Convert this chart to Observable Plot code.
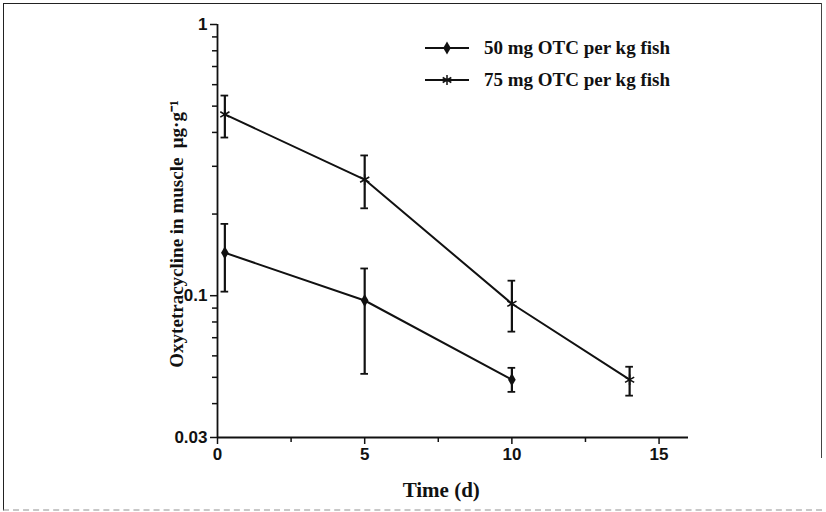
<!DOCTYPE html>
<html>
<head>
<meta charset="utf-8">
<script src="https://cdn.jsdelivr.net/npm/d3@7"></script>
<script src="https://cdn.jsdelivr.net/npm/@observablehq/plot@0.6"></script>
<style>
  body { margin: 0; background: #fff; }
  #wrap { position: relative; width: 826px; height: 512px; overflow: hidden; }
  #box { position: absolute; left: 3px; top: 3px; width: 819px; height: 508px;
         border-left: 1.5px solid #222; border-top: 1.5px solid #222; box-sizing: border-box;
         border-bottom: 2px dashed #c8c8c8; }
  #rbox { position: absolute; left: 821px; top: 3px; width: 0; height: 455px; border-left: 1.2px solid #444; }
  #legend { position: absolute; left: 422px; top: 32px; font-family: "Liberation Serif", serif;
            font-weight: bold; font-size: 19px; color: #111; }
  #legend div { display: flex; align-items: center; height: 32px; }
  #legend svg { margin-right: 12px; }
</style>
</head>
<body>
<div id="wrap"><div id="box"></div><div id="rbox"></div><div id="legend"></div></div>
<script>
const seriesNames = ["50 mg OTC per kg fish", "75 mg OTC per kg fish"];
const days50 = [0.25, 5, 10];
const mean50 = [0.144, 0.096, 0.049];
const lo50 = [0.1035, 0.0515, 0.0442];
const hi50 = [0.184, 0.126, 0.0542];
const days75 = [0.25, 5, 10, 14];
const mean75 = [0.466, 0.268, 0.0934, 0.049];
const lo75 = [0.383, 0.21, 0.0737, 0.0428];
const hi75 = [0.547, 0.329, 0.1136, 0.0547];
const xTicks = [0, 5, 10, 15];
const xMinor = [2.5, 7.5, 12.5];
const yTicks = [0.03, 0.1, 1];
const yTickLabels = ["0.03", "0.1", "1"];
const yMinor = [0.04, 0.05, 0.06, 0.07, 0.08, 0.09, 0.2, 0.3, 0.4, 0.5, 0.6, 0.7, 0.8, 0.9];
const xLabel = "Time (d)";
const yLabel = "Oxytetracycline in muscle  μg·g⁻¹";

const d50 = days50.map((t, i) => ({t, v: mean50[i], lo: lo50[i], hi: hi50[i], s: seriesNames[0]}));
const d75 = days75.map((t, i) => ({t, v: mean75[i], lo: lo75[i], hi: hi75[i], s: seriesNames[1]}));
const all = d50.concat(d75);
const cap = 0.13;

const chart = Plot.plot({
  width: 826, height: 512,
  marginLeft: 217, marginTop: 24, marginBottom: 75, marginRight: 138,
  style: {fontFamily: "Liberation Sans, Arial, sans-serif", fontSize: "17px", color: "#111", background: "transparent"},
  x: {domain: [0, 16]},
  y: {type: "log", domain: [0.03, 1]},
  marks: [
    Plot.ruleX([0], {stroke: "#111", strokeWidth: 1.8}),
    Plot.ruleY([0.03], {stroke: "#111", strokeWidth: 1.8}),
    Plot.axisX(xTicks, {tickSize: 7, tickPadding: 3, label: null, fontWeight: "bold", strokeWidth: 1.5, fontSize: 17}),
    Plot.axisX(xMinor, {tickSize: 5, tickFormat: () => "", label: null, stroke: "#111", strokeWidth: 1.5}),
    Plot.axisY(yTicks, {tickSize: 7, tickPadding: 3, label: null, fontWeight: "bold", fontSize: 17,
                tickFormat: (d) => yTickLabels[yTicks.indexOf(d)], strokeWidth: 1.5}),
    Plot.axisY(yMinor, {tickSize: 5, tickFormat: () => "", label: null, stroke: "#111", strokeWidth: 1.5}),
    Plot.line(all, {x: "t", y: "v", z: "s", stroke: "#111", strokeWidth: 2}),
    Plot.ruleX(all, {x: "t", y1: "lo", y2: "hi", stroke: "#111", strokeWidth: 2.2}),
    Plot.ruleY(all, {y: "lo", x1: d => d.t - cap, x2: d => d.t + cap, stroke: "#111", strokeWidth: 1.8}),
    Plot.ruleY(all, {y: "hi", x1: d => d.t - cap, x2: d => d.t + cap, stroke: "#111", strokeWidth: 1.8}),
    Plot.dot(d50, {x: "t", y: "v", symbol: "diamond", r: 4, fill: "#111", stroke: "none"}),
    Plot.dot(d75, {x: "t", y: "v", symbol: "asterisk", r: 5, stroke: "#111", strokeWidth: 1.6}),
    Plot.text([xLabel], {x: 7.6, frameAnchor: "bottom", dy: 59, fontFamily: "Liberation Serif, serif",
                         fontWeight: "bold", fontSize: 21, fill: "#111"}),
    Plot.text([yLabel], {frameAnchor: "left", dx: -41, dy: 3, rotate: -90, textAnchor: "middle",
                         fontFamily: "Liberation Serif, serif", fontWeight: "bold", fontSize: 19, fill: "#111"})
  ]
});
document.getElementById("wrap").appendChild(chart);

const legend = d3.select("#legend");
seriesNames.forEach((name, i) => {
  const row = legend.append("div");
  const svg = row.append("svg").attr("width", 50).attr("height", 16);
  svg.append("line").attr("x1", 3).attr("x2", 47).attr("y1", 8).attr("y2", 8)
     .attr("stroke", "#111").attr("stroke-width", 2);
  const sym = d3.symbol(i === 0 ? d3.symbolDiamond : d3.symbolAsterisk, i === 0 ? 50 : 70)();
  svg.append("path").attr("d", sym).attr("transform", "translate(25,8)")
     .attr("fill", i === 0 ? "#111" : "none").attr("stroke", "#111").attr("stroke-width", i === 0 ? 0 : 1.5);
  row.append("span").text(name);
});
</script>
</body>
</html>
